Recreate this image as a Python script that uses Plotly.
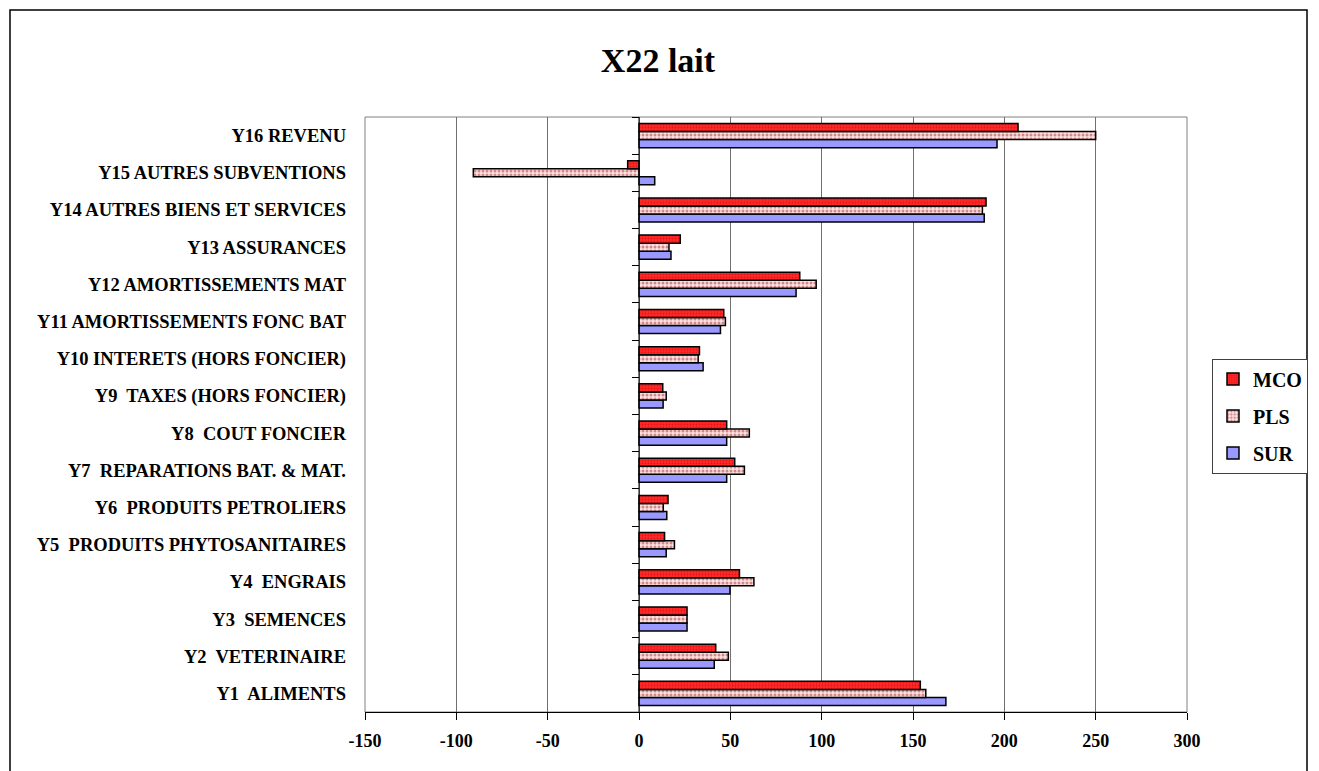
import plotly.graph_objects as go

categories = ["Y1  ALIMENTS", "Y2  VETERINAIRE", "Y3  SEMENCES", "Y4  ENGRAIS",
              "Y5  PRODUITS PHYTOSANITAIRES", "Y6  PRODUITS PETROLIERS",
              "Y7  REPARATIONS BAT. & MAT.", "Y8  COUT FONCIER",
              "Y9  TAXES (HORS FONCIER)", "Y10 INTERETS (HORS FONCIER)",
              "Y11 AMORTISSEMENTS FONC BAT", "Y12 AMORTISSEMENTS MAT",
              "Y13 ASSURANCES", "Y14 AUTRES BIENS ET SERVICES",
              "Y15 AUTRES SUBVENTIONS", "Y16 REVENU"]
mco = [154, 42, 26.3, 55, 14, 15.9, 52.4, 48, 13, 33.1, 46.4, 88, 22.6, 190, -6.2, 207.5]
pls = [157, 48.9, 26.3, 62.9, 19.4, 13.3, 57.7, 60.4, 14.9, 32.4, 47.3, 97, 16.4, 188, -90.7, 250]
sur = [168, 41.2, 26.3, 49.8, 14.9, 15.2, 48, 48, 13.2, 35.1, 44.6, 86, 17.5, 189, 8.6, 196]
x_ticks = [-150, -100, -50, 0, 50, 100, 150, 200, 250, 300]

FONT = "Liberation Serif"
n = len(categories)
ypos = list(range(n))

fig = go.Figure()
fig.add_trace(go.Bar(name="<b>SUR</b>", legendgroup="s", legendrank=3, y=ypos, x=sur,
                     orientation="h",
                     marker=dict(color="#9999FF", line=dict(color="black", width=1.5))))
fig.add_trace(go.Bar(name="<b>PLS</b>", legendgroup="p", legendrank=2, y=ypos, x=pls,
                     orientation="h",
                     marker=dict(color="#F0D0D0", line=dict(color="black", width=1.5),
                                 pattern=dict(shape=".", fgcolor="#993333", bgcolor="#FFE0E0",
                                              size=4, solidity=0.45))))
fig.add_trace(go.Bar(name="<b>MCO</b>", legendgroup="m", legendrank=1, y=ypos, x=mco,
                     orientation="h",
                     marker=dict(color="#FF2020", line=dict(color="black", width=1.5),
                                 pattern=dict(shape=".", fgcolor="#CC0000", bgcolor="#FF2A2A",
                                              size=3, solidity=0.3))))
# trace carrying the category-axis line (with boundary ticks) at x = 0
fig.add_trace(go.Scatter(x=[0, 0], y=[-0.5, n - 0.5], yaxis="y2", mode="lines",
                         line=dict(color="black", width=1), showlegend=False, hoverinfo="skip"))

fig.update_layout(
    width=1311, height=763,
    paper_bgcolor="white", plot_bgcolor="white",
    margin=dict(l=357, r=132, t=109, b=59, autoexpand=False),
    barmode="group", bargap=0.35, bargroupgap=0,
    title=dict(text="<b>X22 lait</b>", x=(658 - 8) / 1311, xref="container", xanchor="center",
               y=1 - 52 / 763, yref="container", yanchor="middle",
               font=dict(family=FONT, size=34, color="black")),
    font=dict(family=FONT, color="black"),
    xaxis=dict(range=[-150, 300], tickvals=x_ticks,
               ticktext=[f"<b>{v}</b>" for v in x_ticks],
               tickfont=dict(family=FONT, size=18, color="black"),
               showgrid=True, gridcolor="#707070", gridwidth=1,
               zeroline=False, showline=True, linecolor="black", linewidth=1,
               ticks="outside", ticklen=7, tickcolor="black", ticklabelstandoff=5),
    yaxis=dict(range=[-0.5, n - 0.5], tickvals=ypos,
               ticktext=[f"<b>{c}</b>" for c in categories],
               tickfont=dict(family=FONT, size=18.5, color="black"),
               showgrid=False, zeroline=False, showline=False, ticks="",
               ticklabelstandoff=18),
    yaxis2=dict(overlaying="y", anchor="free", position=1 / 3, side="left",
                range=[-0.5, n - 0.5], tickvals=[i - 0.5 for i in range(n + 1)],
                showticklabels=False, ticks="outside", ticklen=7, tickcolor="black",
                showgrid=False, zeroline=False, showline=False),
    legend=dict(x=(1212 - 365) / 822, xanchor="left", y=(712 - 416) / 595, yanchor="middle",
                traceorder="grouped", tracegroupgap=8,
                bordercolor="#404040", borderwidth=1,
                bgcolor="white", font=dict(family=FONT, size=20, color="black"),
                itemwidth=30),
    shapes=[
        dict(type="rect", xref="paper", yref="paper", x0=0, x1=1, y0=0, y1=1,
             line=dict(color="#808080", width=1), fillcolor="rgba(0,0,0,0)", layer="below"),
        dict(type="rect", xref="paper", yref="paper",
             x0=(10 - 365) / 822, x1=(1307 - 365) / 822, y0=-0.15, y1=(712 - 10) / 595,
             line=dict(color="black", width=1.5), fillcolor="rgba(0,0,0,0)"),
    ],
)

fig.write_html("out.html")
